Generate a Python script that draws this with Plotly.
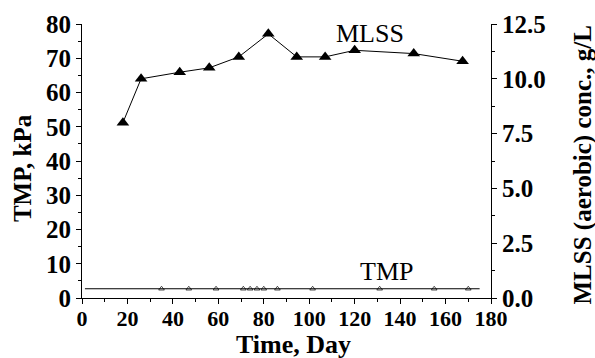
import plotly.graph_objects as go

# MLSS (aerobic) concentration, g/L
mlss_day = [18, 26, 43, 56, 69, 82, 94.5, 107, 120, 146, 167.5]
mlss_val = [8.0, 10.0, 10.3, 10.5, 11.0, 12.05, 11.0, 11.0, 11.3, 11.15, 10.8]

# TMP, kPa
tmp_day = [1.3, 35, 47, 59, 71, 74, 77, 80, 86, 101.5, 131, 155, 170, 175]
tmp_val = [2.7, 2.7, 2.7, 2.7, 2.7, 2.7, 2.7, 2.7, 2.7, 2.7, 2.7, 2.7, 2.7, 2.7]
tmp_marker = [0, 5, 5, 5, 5, 5, 5, 5, 5, 5, 5, 5, 5, 0]

x_ticks = [0, 20, 40, 60, 80, 100, 120, 140, 160, 180]
y_ticks = [0, 10, 20, 30, 40, 50, 60, 70, 80]
y2_ticks = [0, 2.5, 5.0, 7.5, 10.0, 12.5]

FONT = "Liberation Serif, Times New Roman, serif"

fig = go.Figure()
fig.add_trace(go.Scatter(
    x=tmp_day, y=tmp_val, mode="lines+markers",
    line=dict(color="black", width=1),
    marker=dict(symbol="triangle-up-open", size=tmp_marker, color="black",
                line=dict(color="black", width=1)),
    yaxis="y", showlegend=False, hoverinfo="skip"))
fig.add_trace(go.Scatter(
    x=mlss_day, y=mlss_val, mode="lines+markers",
    line=dict(color="black", width=1),
    marker=dict(symbol="triangle-up", size=11, color="black"),
    yaxis="y2", showlegend=False))

fig.update_layout(
    width=595, height=358,
    margin=dict(l=82, r=104, t=24, b=60),
    paper_bgcolor="white", plot_bgcolor="white",
    font=dict(family=FONT, color="black", size=22),
)

fig.update_xaxes(range=[0, 180], tickmode="array", tickvals=x_ticks,
                 ticktext=["<b>%d</b>" % v for v in x_ticks],
                 tickfont=dict(family=FONT, size=22, color="black"),
                 ticklabelstandoff=-4,
                 showline=True, linecolor="black", linewidth=1, ticks="outside",
                 ticklen=5, tickwidth=1, tickcolor="black", showgrid=False, zeroline=False,
                 minor=dict(dtick=10, tick0=0, ticks="outside", ticklen=3, tickcolor="black"))

fig.update_layout(
    yaxis=dict(range=[0, 80], tickmode="array", tickvals=y_ticks,
               ticktext=["<b>%d</b>" % v for v in y_ticks],
               tickfont=dict(family=FONT, size=25, color="black"),
               showline=True, linecolor="black", linewidth=1, ticks="outside",
               ticklen=5, tickwidth=1, tickcolor="black", showgrid=False, zeroline=False,
               minor=dict(dtick=5, tick0=0, ticks="outside", ticklen=3, tickcolor="black")),
    yaxis2=dict(range=[0, 12.5], tickmode="array", tickvals=y2_ticks,
                ticktext=["<b>%.1f</b>" % v for v in y2_ticks],
                overlaying="y", side="right",
                tickfont=dict(family=FONT, size=25, color="black"),
                showline=True, linecolor="black", linewidth=1, ticks="outside",
                ticklen=5, tickwidth=1, tickcolor="black", showgrid=False, zeroline=False,
                minor=dict(dtick=1.25, tick0=0, ticks="outside", ticklen=3, tickcolor="black")),
    annotations=[
        dict(text="MLSS", x=126.8, y=77.1, xref="x", yref="y", showarrow=False,
             font=dict(family=FONT, size=26, color="black")),
        dict(text="TMP", x=134, y=7.6, xref="x", yref="y", showarrow=False,
             font=dict(family=FONT, size=26, color="black")),
        dict(text="<b>Time, Day</b>", x=0.517, y=-0.1715, xref="paper", yref="paper",
             showarrow=False, xanchor="center", yanchor="middle",
             font=dict(family=FONT, size=26, color="black")),
        dict(text="<b>TMP, kPa</b>", x=-0.1467, y=0.474, xref="paper", yref="paper",
             showarrow=False, textangle=-90, xanchor="center", yanchor="middle",
             font=dict(family=FONT, size=25, color="black")),
        dict(text="<b>MLSS (aerobic) conc., g/L</b>", x=1.225, y=0.4836, xref="paper", yref="paper",
             showarrow=False, textangle=-90, xanchor="center", yanchor="middle",
             font=dict(family=FONT, size=25, color="black")),
    ],
)

fig.write_html("out.html")
